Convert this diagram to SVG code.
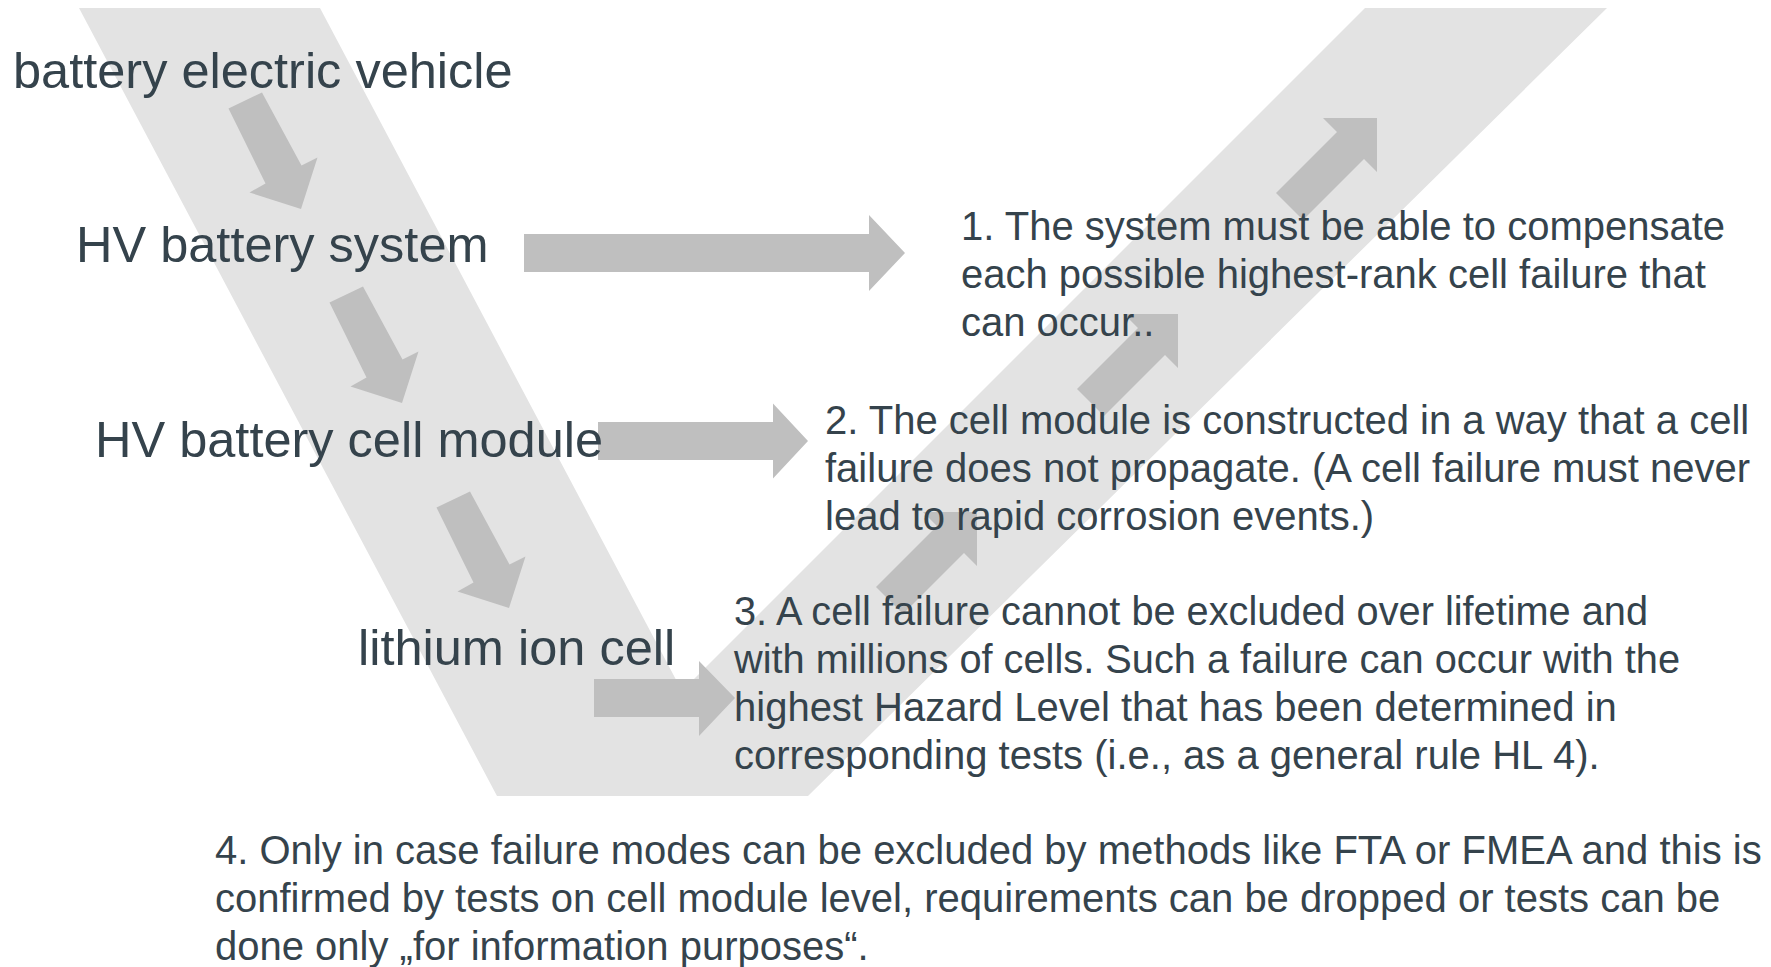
<svg xmlns="http://www.w3.org/2000/svg" width="1771" height="967" viewBox="0 0 1771 967">
  <style>
    .band { fill: #e3e3e3; }
    .arrow { fill: #bfbfbf; }
    .big { font-family: "Liberation Sans", Arial, sans-serif; font-size: 50.5px; fill: #35434c; }
    .small { font-family: "Liberation Sans", Arial, sans-serif; font-size: 40px; fill: #35434c; }
  </style>
  <rect width="1771" height="967" fill="#ffffff"/>
  <g id="v-band">
    <polygon class="band" points="79,8 320,8 682,691 1365,8 1607,8 808,796 497,796"/>
  </g>
  <g id="connectors">
    <polygon class="arrow" points="301,209 317.5,157.5 301.5,165.5 262,92.5 228.5,108.5 265.5,183.5 249.5,192.5"/>
    <polygon class="arrow" points="402,403 418.5,351.5 402.5,359.5 363,286.5 329.5,302.5 366.5,377.5 350.5,386.5"/>
    <polygon class="arrow" points="509,608 525.5,556.5 509.5,564.5 470,491.5 436.5,507.5 473.5,582.5 457.5,591.5"/>
    <polygon class="arrow" points="977,512 977,566 964,553 903,614 876,587 937,526 923,512"/>
    <polygon class="arrow" points="1178,314 1178,368 1165,355 1104,416 1077,389 1138,328 1124,314"/>
    <polygon class="arrow" points="1377,118 1377,172 1364,159 1303,220 1276,193 1337,132 1323,118"/>
    <polygon class="arrow" points="524,234 869,234 869,215 905,253 869,291 869,272 524,272"/>
    <polygon class="arrow" points="598,422 773,422 773,403.5 808,441 773,478.5 773,460 598,460"/>
    <polygon class="arrow" points="594,679 699,679 699,661 735,698 699,736 699,717 594,717"/>
  </g>
  <g id="node-bev">
    <text class="big" x="13" y="88">battery electric vehicle</text>
  </g>
  <g id="node-hv-system">
    <text class="big" x="76" y="262">HV battery system</text>
  </g>
  <g id="node-hv-module">
    <text class="big" x="95" y="457">HV battery cell module</text>
  </g>
  <g id="node-cell">
    <text class="big" x="358" y="665">lithium ion cell</text>
  </g>
  <g id="note-1">
    <text class="small" x="961" y="240">1. The system must be able to compensate</text>
    <text class="small" x="961" y="288">each possible highest-rank cell failure that</text>
    <text class="small" x="961" y="336">can occur..</text>
  </g>
  <g id="note-2">
    <text class="small" x="825" y="434">2. The cell module is constructed in a way that a cell</text>
    <text class="small" x="825" y="482">failure does not propagate. (A cell failure must never</text>
    <text class="small" x="825" y="530">lead to rapid corrosion events.)</text>
  </g>
  <g id="note-3">
    <text class="small" x="734" y="625" textLength="914" lengthAdjust="spacingAndGlyphs">3. A cell failure cannot be excluded over lifetime and</text>
    <text class="small" x="734" y="673" textLength="946" lengthAdjust="spacingAndGlyphs">with millions of cells. Such a failure can occur with the</text>
    <text class="small" x="734" y="721">highest Hazard Level that has been determined in</text>
    <text class="small" x="734" y="769">corresponding tests (i.e., as a general rule HL 4).</text>
  </g>
  <g id="note-4">
    <text class="small" x="215" y="864">4. Only in case failure modes can be excluded by methods like FTA or FMEA and this is</text>
    <text class="small" x="215" y="912">confirmed by tests on cell module level, requirements can be dropped or tests can be</text>
    <text class="small" x="215" y="960">done only „for information purposes“.</text>
  </g>
</svg>
